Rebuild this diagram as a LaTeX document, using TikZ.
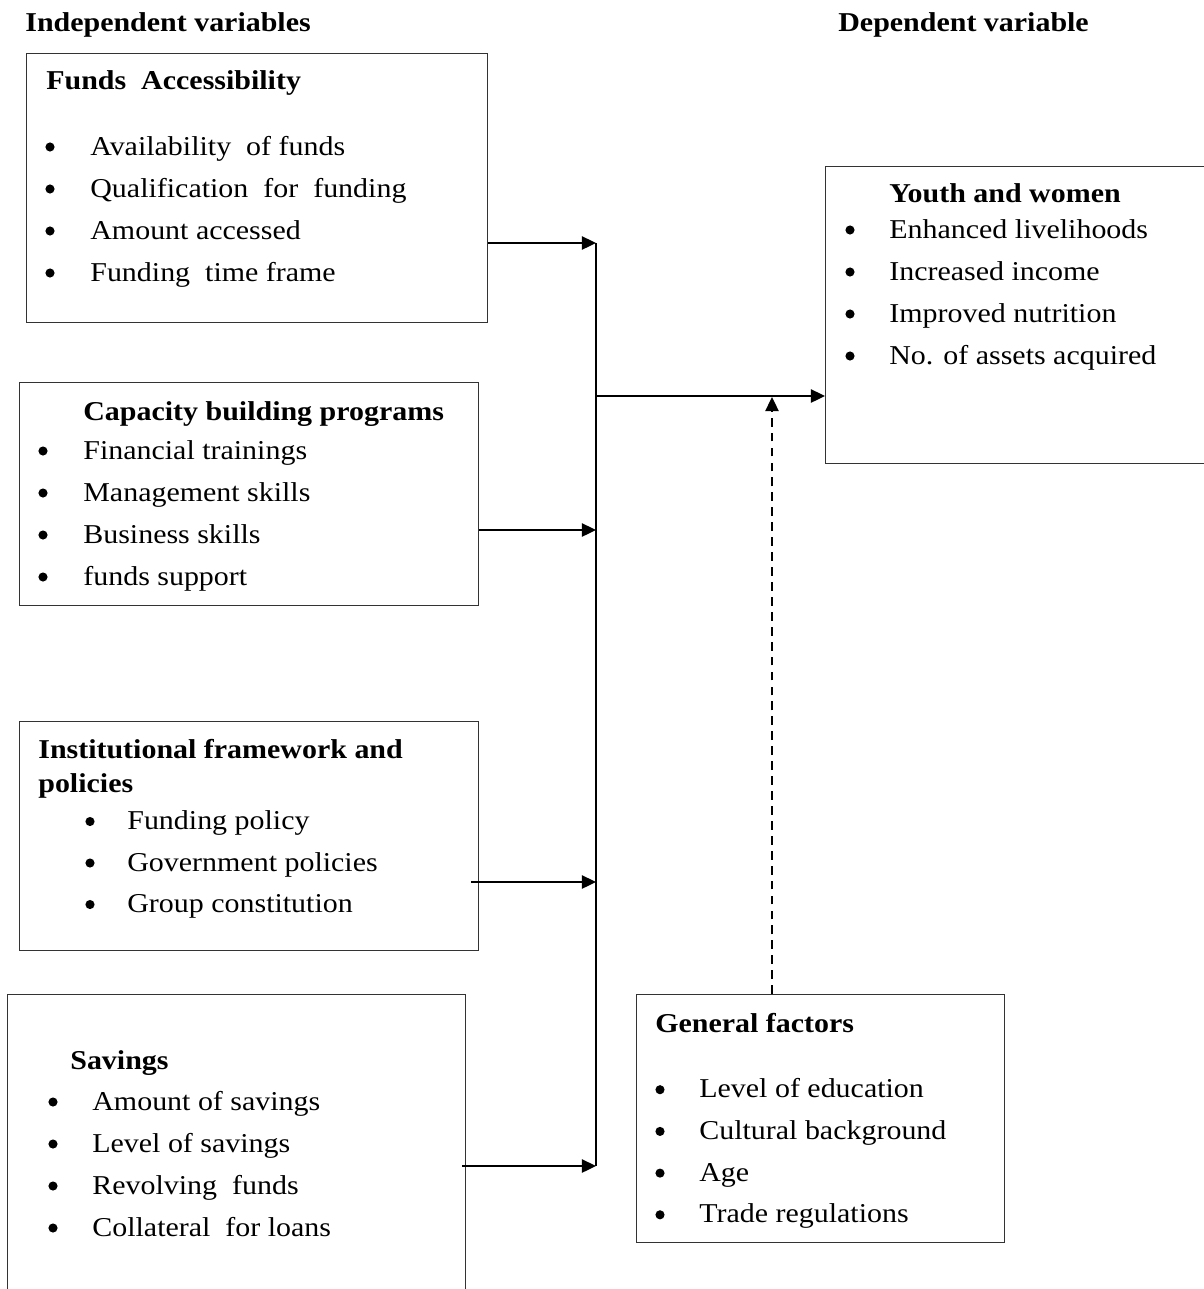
\documentclass[tikz,border=0pt]{standalone}
\usepackage{fontspec}
\setmainfont{Liberation Serif}[FakeStretch=1.1]
\usetikzlibrary{arrows.meta}

\tikzset{
  box/.style={draw=black!80, line width=0.8pt, anchor=north west, inner sep=0},
  txt/.style={anchor=base west, inner sep=0},
  ttl/.style={txt, font=\fontsize{15.5}{19.3}\selectfont\bfseries},
  link/.style={line width=1.1pt, -{Triangle[length=8pt,width=7.5pt]}},
}

\begin{document}
\begin{tikzpicture}[x=0.02cm, y=-0.02cm, font=\fontsize{15.5}{19.3}\selectfont]
\useasboundingbox (0,0) rectangle (1204,1289);
\clip (0,0) rectangle (1204,1289);

% headings
\node[ttl] (indep) at (25,31) {Independent variables};
\node[ttl] (dep) at (838,31) {Dependent variable};

% boxes
\node[box, minimum width=9.22cm, minimum height=5.38cm] (fa) at (26,53) {};
\node[box, minimum width=9.18cm, minimum height=4.46cm] (cb) at (19,382) {};
\node[box, minimum width=9.18cm, minimum height=4.58cm] (ifp) at (19,721) {};
\node[box, minimum width=9.16cm, minimum height=6.2cm] (sav) at (7,994) {};
\node[box, minimum width=7.9cm, minimum height=5.94cm] (yw) at (825,166) {};
\node[box, minimum width=7.36cm, minimum height=4.96cm] (gf) at (636,994) {};

% funds accessibility
\node[ttl] (fa-t) at (46,89) {Funds~ Accessibility};
\foreach \t [count=\i] in {Availability~ of funds, Qualification~ for~ funding,
    Amount accessed, Funding~ time frame} {
  \node[txt] (fa-\i) at (90,113+42*\i) {\t};
  \fill (50,105+42*\i) circle (2.6pt);
}

% capacity building
\node[ttl] (cb-t) at (83,420) {Capacity building programs};
\foreach \t [count=\i] in {Financial trainings, Management skills,
    Business skills, funds support} {
  \node[txt] (cb-\i) at (83,417+42*\i) {\t};
  \fill (43,409+42*\i) circle (2.6pt);
}

% institutional framework
\node[ttl, align=left] (ifp-t) at (38,792) {Institutional framework and\\policies};
\foreach \t [count=\i] in {Funding policy, Government policies,
    Group constitution} {
  \node[txt] (ifp-\i) at (127,788+41.5*\i) {\t};
  \fill (90,780+41.5*\i) circle (2.6pt);
}

% savings
\node[ttl] (sav-t) at (70,1069) {Savings};
\foreach \t [count=\i] in {Amount of savings, Level of savings,
    Revolving~ funds, Collateral~ for loans} {
  \node[txt] (sav-\i) at (92,1068+42*\i) {\t};
  \fill (53,1060+42*\i) circle (2.6pt);
}

% youth and women
\node[ttl] (yw-t) at (889,202) {Youth and women};
\foreach \t [count=\i] in {Enhanced livelihoods, Increased income,
    Improved nutrition, No. of assets acquired} {
  \node[txt] (yw-\i) at (889,196+42*\i) {\t};
  \fill (850,188+42*\i) circle (2.6pt);
}

% general factors
\node[ttl] (gf-t) at (655,1032) {General factors};
\foreach \t [count=\i] in {Level of education, Cultural background,
    Age, Trade regulations} {
  \node[txt] (gf-\i) at (699,1056+41.7*\i) {\t};
  \fill (660,1048+41.7*\i) circle (2.6pt);
}

% connectors
\coordinate (b1) at (596,243);
\coordinate (b2) at (596,530);
\coordinate (b3) at (596,882);
\coordinate (b4) at (596,1166);
\coordinate (hub) at (596,396);
\coordinate (up) at (772,397);

\draw[link] (fa.east |- b1) -- (b1);
\draw[link] (cb.east |- b2) -- (b2);
\draw[link] ([xshift=-0.16cm]ifp.east |- b3) -- (b3);
\draw[link] ([xshift=-0.08cm]sav.east |- b4) -- (b4);
\draw[line width=1.1pt] (b1) -- (b4);
\draw[link] (hub) -- (yw.west |- hub);
\draw[link, dash pattern=on 5pt off 3.5pt] (gf.north -| up) -- (up);
\end{tikzpicture}
\end{document}
